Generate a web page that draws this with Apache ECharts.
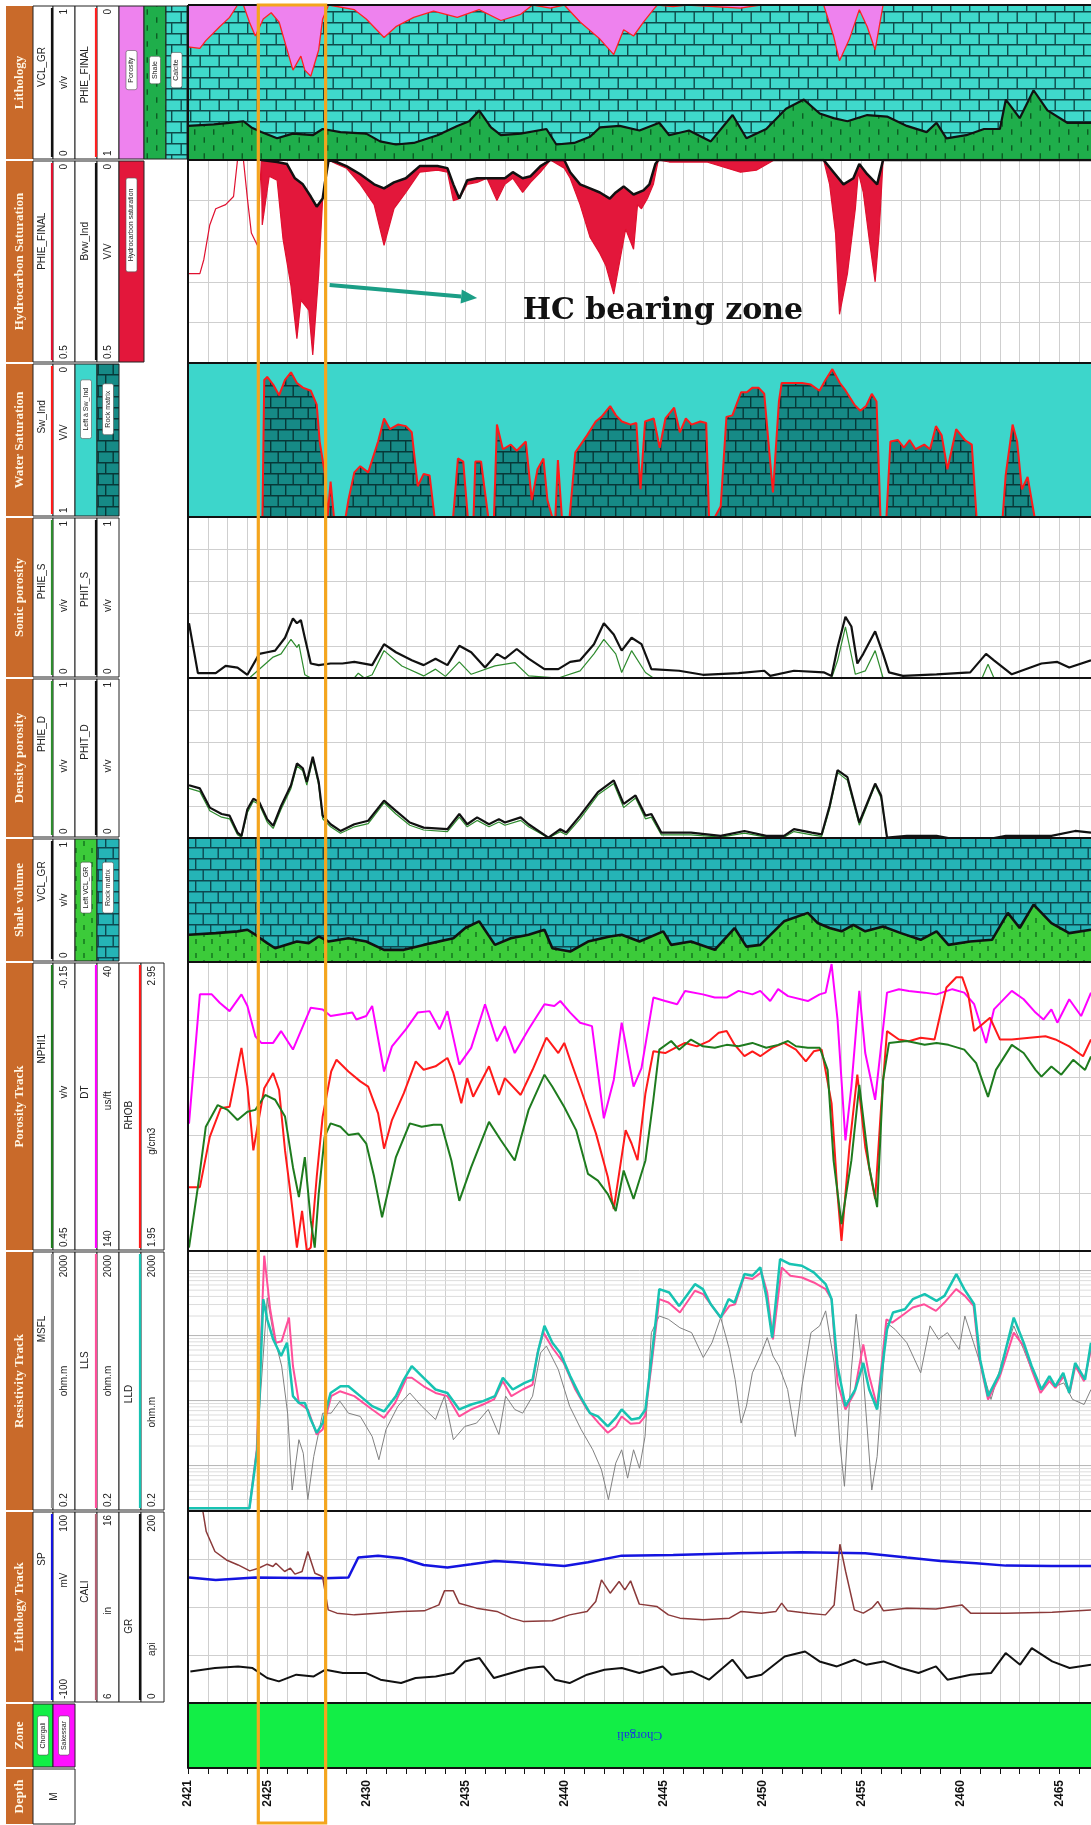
<!DOCTYPE html>
<html><head><meta charset="utf-8">
<script src="https://cdn.jsdelivr.net/npm/echarts@6/dist/echarts.min.js"></script>
<style>html,body{margin:0;padding:0;background:#fff}#c{width:1091px;height:1825px}</style>
</head><body><div id="c"></div>
<script>
// ---------------- DATA (depth m, value) ----------------
const XMIN = 2421, XMAX = 2466.6;
const depthLabels = [2421, 2425, 2430, 2435, 2440, 2445, 2450, 2455, 2460, 2465];
const hcZone = [2424.55, 2427.95];
const zoneName = 'Chorgali';

// Track 1: Lithology
const lithoVCL = [[2421,0.22],[2422.3,0.23],[2423.1,0.24],[2423.8,0.25],[2424.2,0.21],[2424.7,0.18],[2425.5,0.14],[2426.3,0.17],[2427.3,0.16],[2427.8,0.2],[2428.7,0.18],[2430,0.17],[2430.7,0.12],[2431.5,0.1],[2432.4,0.11],[2433.6,0.16],[2434.6,0.22],[2435.2,0.25],[2435.7,0.32],[2436.3,0.21],[2436.8,0.16],[2437.8,0.17],[2439.1,0.2],[2439.6,0.1],[2440.5,0.11],[2441.3,0.15],[2441.8,0.21],[2442.8,0.22],[2443.8,0.19],[2444.8,0.24],[2445.3,0.16],[2446.3,0.19],[2447.4,0.12],[2448.5,0.29],[2449.2,0.14],[2450.2,0.2],[2451.2,0.33],[2452.1,0.39],[2452.9,0.3],[2453.6,0.27],[2454.3,0.25],[2455.3,0.29],[2456.3,0.28],[2457.3,0.22],[2458.3,0.18],[2458.8,0.24],[2459.3,0.14],[2460.3,0.16],[2461.2,0.2],[2462,0.2],[2462.3,0.39],[2463,0.27],[2463.7,0.45],[2464.4,0.32],[2465.4,0.24],[2466.6,0.24]];
const lithoPHIE = [[2421,0.27],[2421.6,0.28],[2421.9,0.23],[2422.6,0.14],[2423.1,0.08],[2423.5,0],[2423.8,0],[2424.1,0.11],[2424.4,0.2],[2424.8,0.09],[2425.2,0.05],[2425.6,0.11],[2426.3,0.42],[2426.7,0.33],[2426.9,0.42],[2427.2,0.46],[2427.6,0.29],[2427.8,0.09],[2428.1,0],[2429.4,0.03],[2430,0.09],[2430.9,0.21],[2431.5,0.14],[2432.4,0.08],[2433.4,0.04],[2434.6,0.08],[2435.7,0.03],[2436.8,0.1],[2437.8,0.06],[2438.4,0],[2439.3,0.02],[2440,0],[2440.8,0.11],[2441.8,0.22],[2442.5,0.32],[2443,0.16],[2443.5,0.2],[2444,0.11],[2444.5,0.03],[2444.7,0],[2445.5,0.01],[2446.2,0],[2448.9,0.02],[2449.9,0],[2453.1,0],[2453.6,0.2],[2453.9,0.36],[2454.4,0.22],[2454.9,0.03],[2455.3,0.14],[2455.7,0.29],[2456.1,0],[2466.6,0]];

// Track 2: Hydrocarbon saturation
const hcPHIE = [[2421,0.28],[2421.6,0.28],[2421.8,0.245],[2422.1,0.16],[2422.4,0.12],[2422.9,0.11],[2423.3,0.09],[2423.5,0],[2423.8,0],[2424,0.095],[2424.2,0.18],[2424.5,0.21],[2424.7,0],[2424.75,0.16],[2425.1,0.04],[2425.5,0.05],[2425.8,0.195],[2426.2,0.31],[2426.5,0.44],[2426.7,0.345],[2427.1,0.37],[2427.3,0.48],[2427.6,0.28],[2427.8,0.095],[2428.1,0],[2428.5,0.01],[2429,0.02],[2429.7,0.06],[2430.4,0.11],[2430.9,0.21],[2431.4,0.12],[2432,0.08],[2432.7,0.03],[2433.6,0.025],[2434.1,0.03],[2434.4,0.1],[2434.7,0.095],[2435.1,0.06],[2435.6,0.055],[2436.1,0.045],[2436.6,0.1],[2437,0.06],[2437.4,0.045],[2437.9,0.08],[2438.3,0.055],[2438.8,0.03],[2439.3,0],[2440,0.02],[2440.3,0.045],[2440.8,0.11],[2441.3,0.19],[2441.8,0.23],[2442.1,0.26],[2442.5,0.33],[2442.8,0.25],[2443.1,0.17],[2443.5,0.22],[2443.7,0.11],[2443.9,0.12],[2444.2,0.095],[2444.5,0.06],[2444.75,0],[2445.3,0.005],[2447.2,0.005],[2448.9,0.03],[2449.7,0.025],[2450.6,0],[2453.1,0],[2453.4,0.06],[2453.7,0.18],[2453.9,0.38],[2454.3,0.28],[2454.7,0.12],[2454.85,0.03],[2455.1,0.08],[2455.4,0.195],[2455.7,0.3],[2455.9,0.18],[2456.1,0],[2466.6,0]];
const hcBVW = [[2424.7,0],[2425.5,0.005],[2426,0.01],[2426.4,0.045],[2426.8,0.06],[2427.2,0.09],[2427.5,0.115],[2427.8,0.095],[2427.9,0.06],[2428.1,0],[2428.5,0.005],[2429,0.015],[2429.7,0.035],[2430.4,0.06],[2430.9,0.07],[2431.4,0.055],[2432,0.045],[2432.7,0.015],[2433.6,0.015],[2434.1,0.02],[2434.4,0.06],[2434.7,0.095],[2435.1,0.05],[2435.6,0.045],[2436.1,0.045],[2436.6,0.045],[2437,0.045],[2437.4,0.03],[2437.9,0.045],[2438.3,0.04],[2438.8,0.015],[2439.3,0],[2440,0],[2440.3,0.03],[2440.8,0.06],[2441.3,0.07],[2441.8,0.08],[2442.3,0.095],[2442.6,0.08],[2443,0.065],[2443.5,0.085],[2444,0.075],[2444.3,0.06],[2444.6,0.01],[2444.75,0],[2453.1,0],[2453.6,0.03],[2454.1,0.06],[2454.6,0.045],[2454.9,0.01],[2455.3,0.035],[2455.8,0.06],[2456.1,0],[2466.6,0]];

// Track 3: Water saturation
const swInd = [[2424.76,1],[2424.85,0.11],[2425,0.09],[2425.3,0.14],[2425.6,0.21],[2425.9,0.11],[2426.2,0.06],[2426.5,0.13],[2426.8,0.16],[2427.2,0.18],[2427.5,0.27],[2427.65,0.51],[2427.9,0.71],[2428.05,1],[2428.2,0.77],[2428.37,1],[2428.96,1],[2429.1,0.89],[2429.4,0.71],[2429.7,0.67],[2430.1,0.71],[2430.6,0.51],[2430.9,0.36],[2431.2,0.43],[2431.6,0.4],[2432,0.41],[2432.3,0.45],[2432.6,0.8],[2432.9,0.72],[2433.2,0.73],[2433.45,1],[2434.39,1],[2434.63,0.62],[2434.9,0.64],[2435.13,1],[2435.42,1],[2435.51,0.64],[2435.8,0.64],[2436.16,1],[2436.45,1],[2436.6,0.4],[2436.9,0.56],[2437.3,0.53],[2437.6,0.57],[2438.06,0.51],[2438.36,0.89],[2438.65,0.69],[2438.95,0.62],[2439.15,0.89],[2439.39,1],[2439.55,1],[2439.68,0.63],[2439.88,1],[2440.27,1],[2440.56,0.58],[2441.15,0.47],[2441.59,0.38],[2441.88,0.35],[2442.32,0.28],[2442.61,0.34],[2442.91,0.38],[2443.35,0.4],[2443.64,0.39],[2443.85,0.82],[2444.08,0.38],[2444.52,0.36],[2444.82,0.55],[2445.11,0.36],[2445.55,0.29],[2445.84,0.45],[2446.14,0.36],[2446.43,0.4],[2446.87,0.38],[2447.17,0.39],[2447.31,1],[2447.61,1],[2447.9,0.93],[2448.19,0.35],[2448.49,0.34],[2448.93,0.19],[2449.22,0.19],[2449.51,0.16],[2449.81,0.16],[2450.1,0.2],[2450.31,0.51],[2450.54,0.84],[2450.84,0.25],[2450.98,0.13],[2451.42,0.13],[2452.01,0.13],[2452.45,0.14],[2452.89,0.18],[2453.19,0.11],[2453.54,0.04],[2453.92,0.13],[2454.21,0.18],[2454.65,0.27],[2454.95,0.31],[2455.24,0.28],[2455.53,0.2],[2455.77,0.25],[2455.97,1],[2456.27,1],[2456.47,0.51],[2456.85,0.5],[2457.15,0.55],[2457.44,0.5],[2457.74,0.56],[2458.18,0.53],[2458.47,0.56],[2458.77,0.41],[2459.06,0.47],[2459.35,0.69],[2459.79,0.43],[2460.23,0.5],[2460.58,0.53],[2460.82,1],[2462.14,1],[2462.29,0.73],[2462.64,0.4],[2462.87,0.51],[2463.11,0.82],[2463.4,0.74],[2463.75,1],[2466.6,1]];

// Track 4: Sonic porosity
const phitS = [[2421.05,0.34],[2421.5,0.03],[2422.4,0.03],[2422.9,0.075],[2423.5,0.065],[2424,0.02],[2424.6,0.15],[2425,0.16],[2425.4,0.17],[2425.9,0.25],[2426.3,0.37],[2426.5,0.34],[2426.7,0.36],[2426.9,0.25],[2427.2,0.09],[2427.6,0.08],[2428.2,0.09],[2428.8,0.09],[2429.4,0.1],[2430.3,0.08],[2430.9,0.21],[2431.5,0.16],[2432.3,0.11],[2432.9,0.08],[2433.5,0.12],[2434.1,0.08],[2434.7,0.2],[2435.3,0.16],[2436,0.065],[2436.6,0.15],[2437,0.12],[2437.6,0.18],[2438.2,0.12],[2439,0.055],[2439.7,0.055],[2440.3,0.1],[2440.8,0.11],[2441.5,0.21],[2442,0.34],[2442.5,0.27],[2442.9,0.17],[2443.4,0.25],[2443.9,0.21],[2444.4,0.055],[2445.8,0.045],[2447,0.02],[2448.8,0.03],[2450.1,0.045],[2450.4,0.013],[2451.6,0.045],[2453.1,0.035],[2453.5,0.013],[2453.8,0.19],[2454.2,0.38],[2454.5,0.32],[2454.8,0.09],[2455.1,0.15],[2455.7,0.29],[2456.1,0.15],[2456.4,0.035],[2457.1,0.013],[2458.8,0.023],[2460.5,0.035],[2461.3,0.15],[2461.7,0.11],[2462.6,0.023],[2464.1,0.09],[2464.9,0.1],[2465.5,0.065],[2466.6,0.11]];
const phieS = [[2421,0],[2424.1,0],[2424.7,0.065],[2425.3,0.13],[2425.7,0.15],[2426.2,0.24],[2426.5,0.19],[2426.6,0.21],[2426.9,0.02],[2427.2,0],[2429.4,0],[2429.6,0.03],[2429.9,0],[2430.3,0.02],[2430.9,0.17],[2431.8,0.075],[2432.9,0.013],[2433.5,0.055],[2434,0.01],[2434.7,0.1],[2435.3,0.023],[2436.5,0.075],[2437.5,0.096],[2438.2,0.013],[2439.7,0],[2440.8,0.044],[2441.5,0.15],[2442,0.24],[2442.6,0.15],[2442.9,0.034],[2443.4,0.17],[2444.1,0.034],[2444.5,0],[2453.5,0],[2453.8,0.107],[2454.2,0.317],[2454.7,0.023],[2455.2,0.044],[2455.7,0.17],[2456.1,0],[2461.1,0],[2461.4,0.086],[2461.7,0],[2466.6,0]];

// Track 5: Density porosity
const phitD = [[2421.05,0.33],[2421.6,0.31],[2422.1,0.19],[2422.7,0.15],[2423.1,0.14],[2423.5,0.034],[2423.7,0.013],[2424,0.18],[2424.3,0.245],[2424.6,0.224],[2425,0.118],[2425.3,0.076],[2425.7,0.2],[2426.2,0.33],[2426.5,0.466],[2426.8,0.435],[2427,0.35],[2427.3,0.508],[2427.6,0.35],[2427.8,0.14],[2428.2,0.086],[2428.7,0.044],[2429.4,0.086],[2430.1,0.108],[2430.9,0.234],[2431.5,0.17],[2432.2,0.097],[2432.9,0.065],[2434.1,0.055],[2434.7,0.15],[2435.1,0.086],[2435.6,0.129],[2436.2,0.086],[2436.7,0.118],[2437,0.097],[2437.8,0.129],[2438.2,0.086],[2439.2,0.002],[2439.8,0.055],[2440.1,0.034],[2440.8,0.14],[2441.7,0.287],[2442.5,0.36],[2443,0.213],[2443.6,0.266],[2444.1,0.14],[2444.4,0.15],[2444.9,0.034],[2446.4,0.034],[2447.9,0.013],[2449.1,0.044],[2450.2,0.013],[2451.1,0.013],[2451.6,0.055],[2452.5,0.034],[2453,0.023],[2453.4,0.2],[2453.8,0.424],[2454.3,0.38],[2454.9,0.097],[2455.7,0.34],[2456,0.266],[2456.3,0.002],[2457.3,0.013],[2458.8,0.013],[2459.4,0],[2461.7,0],[2462.3,0.013],[2464.6,0.013],[2465.8,0.044],[2466.6,0.034]];
const phieD = [[2421.05,0.31],[2421.6,0.29],[2422.1,0.17],[2422.7,0.13],[2423.1,0.12],[2423.5,0.02],[2423.7,0.005],[2424,0.16],[2424.3,0.23],[2424.6,0.21],[2425,0.1],[2425.3,0.06],[2425.7,0.18],[2426.2,0.31],[2426.5,0.45],[2426.8,0.42],[2427,0.33],[2427.3,0.49],[2427.6,0.33],[2427.8,0.12],[2428.2,0.07],[2428.7,0.03],[2429.4,0.07],[2430.1,0.09],[2430.9,0.22],[2431.5,0.15],[2432.2,0.08],[2432.9,0.05],[2434.1,0.04],[2434.7,0.13],[2435.1,0.07],[2435.6,0.11],[2436.2,0.07],[2436.7,0.1],[2437,0.08],[2437.8,0.11],[2438.2,0.07],[2439.2,0],[2439.8,0.04],[2440.1,0.02],[2440.8,0.12],[2441.7,0.27],[2442.5,0.34],[2443,0.19],[2443.6,0.25],[2444.1,0.12],[2444.4,0.13],[2444.9,0.02],[2446.4,0.02],[2447.9,0.005],[2449.1,0.03],[2450.2,0.005],[2451.1,0.005],[2451.6,0.04],[2452.5,0.02],[2453,0.01],[2453.4,0.18],[2453.8,0.41],[2454.3,0.36],[2454.9,0.08],[2455.7,0.33],[2456,0.25],[2456.3,0],[2466.6,0]];

// Track 6: Shale volume
const shaleVCL = [[2421.05,0.22],[2422.4,0.233],[2423.5,0.247],[2424,0.26],[2424.4,0.22],[2425,0.152],[2425.4,0.111],[2426.5,0.165],[2427.1,0.152],[2427.6,0.206],[2428.1,0.165],[2429.1,0.192],[2430,0.165],[2430.9,0.098],[2431.9,0.098],[2432.9,0.138],[2434.4,0.192],[2435,0.274],[2435.7,0.328],[2436.5,0.138],[2437.3,0.192],[2438.2,0.22],[2439,0.26],[2439.4,0.111],[2440.3,0.084],[2441.2,0.165],[2442.3,0.206],[2442.9,0.22],[2443.8,0.165],[2445,0.247],[2445.4,0.138],[2446.4,0.165],[2447.6,0.098],[2448.6,0.274],[2449.2,0.124],[2449.9,0.138],[2451.1,0.328],[2452.3,0.396],[2452.8,0.314],[2453.4,0.274],[2454,0.247],[2454.6,0.3],[2455.2,0.247],[2456.1,0.287],[2457,0.233],[2458,0.179],[2458.8,0.247],[2459.4,0.138],[2460.5,0.165],[2461.6,0.179],[2462.4,0.396],[2463,0.274],[2463.7,0.463],[2464.6,0.314],[2465.5,0.233],[2466.6,0.26]];

// Track 7: Porosity track
const nphi = [[2421.05,0.443],[2421.5,0.317],[2421.9,0.192],[2422.5,0.147],[2423,0.157],[2423.5,0.178],[2424,0.161],[2424.4,0.157],[2424.9,0.126],[2425.4,0.136],[2425.9,0.171],[2426.3,0.276],[2426.6,0.338],[2426.9,0.255],[2427.2,0.387],[2427.4,0.443],[2427.6,0.332],[2427.9,0.213],[2428.2,0.185],[2428.7,0.192],[2429.1,0.209],[2429.6,0.206],[2430,0.227],[2430.4,0.296],[2430.8,0.38],[2431.5,0.255],[2432.2,0.185],[2432.8,0.192],[2433.4,0.188],[2433.8,0.188],[2434.3,0.262],[2434.7,0.346],[2435.3,0.276],[2436.2,0.182],[2436.8,0.22],[2437.5,0.262],[2438.2,0.157],[2439,0.084],[2439.4,0.109],[2440,0.151],[2440.6,0.199],[2441.2,0.29],[2441.7,0.304],[2442.2,0.332],[2442.6,0.367],[2443,0.283],[2443.5,0.342],[2444.1,0.262],[2444.5,0.136],[2444.8,0.032],[2445.4,0.014],[2445.8,0.032],[2446.4,0.011],[2447,0.025],[2447.6,0.028],[2448.2,0.022],[2448.8,0.025],[2449.5,0.018],[2450.2,0.028],[2450.8,0.022],[2451.3,0.014],[2451.7,0.025],[2452.3,0.028],[2452.9,0.028],[2453.3,0.074],[2453.6,0.262],[2454,0.394],[2454.5,0.262],[2454.9,0.105],[2455.4,0.276],[2455.8,0.359],[2456.1,0.095],[2456.4,0.018],[2457.3,0.014],[2458.2,0.022],[2458.8,0.018],[2459.4,0.022],[2460.2,0.032],[2460.8,0.06],[2461.4,0.13],[2461.8,0.074],[2462.6,0.022],[2463.2,0.039],[2463.8,0.074],[2464.1,0.088],[2464.6,0.067],[2465.1,0.084],[2465.7,0.053],[2466.3,0.074],[2466.6,0.046]];
const dt = [[2421.05,95.9],[2421.6,51.2],[2422.2,51.2],[2422.6,54.1],[2423.1,57],[2423.7,51.2],[2424,55.2],[2424.4,65.7],[2424.7,68],[2425.3,68],[2425.7,63.9],[2426.3,70.3],[2427.2,55.8],[2427.8,56.4],[2428.2,58.7],[2429.3,57.5],[2429.5,59.9],[2430,58.7],[2430.3,55.2],[2430.9,77.9],[2431.3,69.2],[2432,63.3],[2432.6,57.5],[2433.2,57],[2433.7,63.3],[2434.1,57],[2434.7,75.5],[2435.3,69.7],[2436,54.6],[2436.6,67.4],[2437,62.2],[2437.5,71.5],[2438.2,63.3],[2439,54.6],[2439.5,55.2],[2439.8,53.5],[2440.3,57.5],[2440.8,61],[2441.4,62.2],[2442,94.1],[2442.5,80.8],[2442.9,61],[2443.5,83.1],[2443.9,76.7],[2444.5,52.3],[2445.1,53.5],[2445.7,54.6],[2446.1,50],[2447,51.2],[2447.6,52.3],[2448.2,52.3],[2448.8,50],[2449.5,51.2],[2449.9,50],[2450.4,53.5],[2450.8,49.4],[2451.3,51.8],[2452.3,53.5],[2452.9,51.2],[2453.2,50.6],[2453.5,40.7],[2453.8,59.9],[2454.2,101.7],[2454.5,83.1],[2454.9,50],[2455.2,71.5],[2455.7,87.7],[2456.3,50.6],[2456.9,49.4],[2457.4,50],[2458.2,50.6],[2458.8,51.2],[2459.6,49.4],[2460.2,50.6],[2460.7,54.6],[2461.3,68],[2461.7,56.4],[2462.6,50],[2463.2,52.9],[2463.8,57.5],[2464.2,59.9],[2464.6,56.4],[2464.9,61],[2465.5,52.9],[2466.1,58.7],[2466.6,50.6]];
const rhob = [[2421.05,2.171],[2421.6,2.171],[2422.1,2.345],[2422.65,2.444],[2423.1,2.449],[2423.7,2.653],[2424,2.519],[2424.3,2.298],[2424.85,2.513],[2425.3,2.566],[2425.6,2.507],[2425.9,2.298],[2426.2,2.136],[2426.5,1.962],[2426.76,2.089],[2427,1.95],[2427.2,1.962],[2427.5,2.206],[2427.8,2.415],[2428.23,2.571],[2428.5,2.612],[2429.1,2.571],[2429.7,2.537],[2430.1,2.519],[2430.6,2.426],[2430.9,2.304],[2431.3,2.403],[2431.9,2.496],[2432.5,2.606],[2432.9,2.577],[2433.5,2.589],[2434.1,2.618],[2434.4,2.566],[2434.8,2.461],[2435.1,2.548],[2435.4,2.484],[2436.2,2.589],[2436.7,2.49],[2437,2.548],[2437.8,2.49],[2438.4,2.577],[2439.1,2.688],[2439.7,2.635],[2440,2.67],[2440.85,2.507],[2441.6,2.357],[2442.2,2.206],[2442.5,2.095],[2443.1,2.368],[2443.4,2.322],[2443.7,2.264],[2444.1,2.496],[2444.5,2.641],[2445.1,2.635],[2445.6,2.653],[2446.1,2.67],[2446.7,2.658],[2447.3,2.676],[2447.8,2.705],[2448.2,2.711],[2448.6,2.664],[2449.1,2.624],[2449.5,2.641],[2449.9,2.624],[2450.5,2.653],[2451.1,2.67],[2451.7,2.647],[2452.2,2.606],[2452.6,2.641],[2453,2.647],[2453.5,2.461],[2453.8,2.147],[2454,1.985],[2454.4,2.31],[2454.8,2.56],[2455.2,2.31],[2455.7,2.13],[2456,2.449],[2456.3,2.711],[2456.9,2.682],[2457.4,2.676],[2458,2.688],[2458.7,2.682],[2459.3,2.862],[2459.8,2.897],[2460.1,2.897],[2460.4,2.838],[2460.7,2.711],[2461.1,2.734],[2461.5,2.757],[2462,2.682],[2462.6,2.682],[2463.5,2.688],[2464.3,2.693],[2464.8,2.682],[2465.5,2.658],[2466.2,2.624],[2466.6,2.682]];

// Track 8: Resistivity (ohm.m)
const lld = [[2421.05,0.22],[2424.1,0.22],[2424.5,1.75],[2424.8,363],[2425,178],[2425.3,87.5],[2425.7,48.4],[2426,77.6],[2426.3,11.7],[2426.6,9.2],[2426.9,9.2],[2427.2,5.1],[2427.5,3.2],[2427.8,4.5],[2428.2,13.1],[2428.7,16.6],[2429.1,16.6],[2429.7,11.7],[2430.3,8.2],[2430.9,6.8],[2431.5,11.7],[2431.9,21],[2432.3,34],[2432.9,22.4],[2433.5,14.8],[2434.1,13.1],[2434.7,7.3],[2435.3,8.7],[2435.9,9.8],[2436.5,11.7],[2436.9,22.4],[2437.4,14.8],[2438,18.7],[2438.4,21],[2438.7,61],[2439,141],[2439.4,77.6],[2439.8,54],[2440.3,23.8],[2440.8,11.7],[2441.3,6.4],[2441.7,5.7],[2442.2,4],[2442.6,5.4],[2442.9,7.3],[2443.4,5.1],[2443.8,5.4],[2444.1,7.3],[2444.4,43],[2444.8,518],[2445.3,460],[2445.8,286],[2446.6,618],[2447,518],[2447.4,303],[2447.9,189],[2448.3,363],[2448.6,322],[2449.1,883],[2449.5,832],[2449.9,1120],[2450.2,408],[2450.5,93],[2450.9,1503],[2451.4,1259],[2452,1186],[2452.6,938],[2453.2,618],[2453.5,363],[2453.8,34],[2454.2,8.2],[2454.7,14.8],[2455.1,38],[2455.4,14.8],[2455.8,7.3],[2456.3,125],[2456.6,226],[2457.2,254],[2457.6,363],[2458.2,434],[2458.8,342],[2459.2,408],[2459.8,883],[2460.2,518],[2460.7,303],[2461,43],[2461.4,11.7],[2462,26.7],[2462.7,189],[2463.2,77.6],[2463.6,34],[2464.1,14.8],[2464.5,23.8],[2464.8,16.6],[2465.2,26.7],[2465.5,13.1],[2465.8,38],[2466.3,21],[2466.6,77.6]];
const lls = [[2421.05,0.22],[2424.1,0.22],[2424.47,1.75],[2424.85,1694],[2425.15,254],[2425.44,77.6],[2425.73,82],[2426.1,189],[2426.3,34],[2426.6,9.2],[2427.05,7.3],[2427.5,3],[2427.8,3.6],[2428.23,11.7],[2428.67,13.9],[2429.4,11.7],[2430.3,7.3],[2430.9,5.4],[2431.46,9.2],[2432.04,22.4],[2432.3,22.4],[2432.9,16.6],[2433.5,13.1],[2434.1,11.7],[2434.7,5.7],[2435.3,7.3],[2435.9,8.7],[2436.45,10.4],[2436.9,19.9],[2437.33,11.7],[2437.9,14.8],[2438.4,17.5],[2438.65,54],[2438.95,111],[2439.4,65],[2439.97,38],[2440.56,14.8],[2441.15,7.3],[2441.74,4.5],[2442.2,3.2],[2442.6,4],[2442.9,5.7],[2443.35,4.4],[2443.8,4.5],[2444.08,5.7],[2444.4,34],[2444.8,363],[2445.26,322],[2445.84,226],[2446.6,490],[2447.02,434],[2447.46,286],[2447.9,189],[2448.34,286],[2448.63,303],[2449.07,783],[2449.5,740],[2449.96,938],[2450.25,460],[2450.54,87.5],[2450.98,1120],[2451.42,832],[2452,783],[2452.6,656],[2453.2,518],[2453.5,363],[2453.8,18.7],[2454.2,7.3],[2454.65,13.1],[2455.1,73],[2455.4,23.8],[2455.8,8.2],[2456.27,178],[2456.56,158],[2457.15,213],[2457.6,270],[2458.18,303],[2458.77,240],[2459.2,322],[2459.79,518],[2460.23,408],[2460.67,286],[2460.96,43],[2461.4,10.4],[2462,23.8],[2462.7,111],[2463.2,69],[2463.6,30],[2464.05,13.1],[2464.5,19.9],[2464.8,15.7],[2465.23,23.8],[2465.52,13.1],[2465.81,34],[2466.25,19.9],[2466.6,61]];
const msfl = [[2421.05,0.22],[2424.1,0.22],[2424.47,1.75],[2425,380],[2425.3,111],[2425.73,34],[2426.03,6.4],[2426.26,0.42],[2426.6,2.5],[2426.82,1.55],[2427.05,0.3],[2427.35,1.38],[2427.8,6.4],[2428.23,6.4],[2428.67,9.8],[2429.1,6.4],[2429.7,5.7],[2430.3,2.8],[2430.64,1.23],[2431,3.6],[2431.6,8.2],[2432.2,13.1],[2432.8,8.2],[2433.5,5.1],[2433.95,11.7],[2434.4,2.5],[2434.98,4],[2435.57,4.5],[2436.16,7.3],[2436.7,3],[2437.04,11.7],[2437.5,7.3],[2437.9,6.4],[2438.4,11.7],[2438.8,54],[2439.1,69],[2439.7,30],[2440.27,8.2],[2440.85,3.6],[2441.44,1.75],[2441.88,0.86],[2442.23,0.3],[2442.6,1.09],[2442.9,1.75],[2443.2,0.64],[2443.5,1.75],[2443.8,0.91],[2444.08,2.8],[2444.4,111],[2444.8,200],[2445.26,178],[2445.84,132],[2446.43,111],[2447.02,46],[2447.46,77.6],[2447.9,189],[2448.34,61],[2448.63,21],[2448.93,4.5],[2449.2,8.2],[2449.5,26.7],[2449.96,54],[2450.25,93],[2450.54,48.4],[2450.84,34],[2451.28,14.8],[2451.67,2.8],[2452,16.6],[2452.46,111],[2452.9,141],[2453.2,240],[2453.63,38],[2453.92,2.2],[2454.15,0.48],[2454.5,30],[2454.74,213],[2455.1,23.8],[2455.53,0.42],[2455.8,1.38],[2456.27,158],[2456.7,125],[2457.3,77.6],[2458,26.7],[2458.47,141],[2458.9,87.5],[2459.35,111],[2459.94,61],[2460.23,200],[2460.67,77.6],[2461.1,30],[2461.55,10.4],[2462.14,43],[2462.7,141],[2463.2,61],[2463.6,30],[2464.05,14.8],[2464.5,21],[2464.8,16.6],[2465.23,18.7],[2465.67,10.4],[2466.25,8.7],[2466.6,14.8]];

// Track 9: Lithology track
const sp = [[2421.05,30.7],[2422.4,28.2],[2424.4,30.7],[2427.9,30],[2429.1,30.7],[2429.6,51.5],[2430.6,53.5],[2431.8,50.8],[2432.9,43.8],[2434.1,41.1],[2435.3,44.5],[2436.5,48],[2437.6,46.6],[2438.8,44.5],[2440,42.8],[2441.2,46.6],[2442.9,53.5],[2445.5,54.2],[2448.8,56],[2452,57],[2455.2,56],[2457.3,51.5],[2459,48],[2460.8,45.6],[2462.3,43.1],[2464.6,42.8],[2466.6,42.8]];
const cali = [[2421.75,16],[2421.92,14.93],[2422.36,13.89],[2422.94,13.45],[2423.53,13.19],[2424.12,12.88],[2424.56,13.02],[2425,13.23],[2425.29,13.11],[2425.44,13.28],[2425.88,12.85],[2426.17,13.02],[2426.4,12.71],[2426.76,12.85],[2427.05,13.89],[2427.41,12.76],[2427.79,12.59],[2428.08,10.85],[2428.52,10.68],[2429.4,10.59],[2430.58,10.68],[2431.76,10.77],[2432.93,10.8],[2433.67,11.11],[2433.95,11.84],[2434.4,11.84],[2434.69,11.2],[2435.57,10.94],[2436.6,10.77],[2437.33,10.42],[2437.92,10.25],[2439.39,10.28],[2440.27,10.59],[2441.15,10.77],[2441.59,11.29],[2441.88,12.41],[2442.32,11.72],[2442.77,12.33],[2443.06,11.89],[2443.35,12.36],[2443.79,11.15],[2444.67,11.03],[2445.26,10.59],[2445.84,10.42],[2447.02,10.33],[2448.34,10.42],[2448.93,10.77],[2449.96,10.68],[2450.69,10.77],[2450.98,11.2],[2451.28,10.8],[2452.3,10.68],[2453.19,10.59],[2453.63,11.11],[2453.92,14.27],[2454.21,12.85],[2454.65,10.85],[2455.1,10.68],[2455.53,10.94],[2455.83,11.29],[2456.12,10.8],[2457.3,10.94],[2458.77,10.9],[2460.08,11.11],[2460.52,10.68],[2462.29,10.68],[2464.64,10.73],[2466.6,10.85]];
const gr = [[2421.12,32.9],[2422.36,36.4],[2423.53,38.1],[2424.26,36.4],[2425,26],[2425.59,22.5],[2426.47,29.5],[2427.35,27.7],[2427.94,34.7],[2428.82,31.2],[2430,31.2],[2430.72,24.3],[2431.76,20.8],[2432.49,26],[2433.51,27.7],[2434.4,31.2],[2434.98,43.3],[2435.72,46.8],[2436.45,26],[2437.33,31.2],[2438.21,36.4],[2438.95,38.1],[2439.53,24.3],[2440.27,20.8],[2441.15,29.5],[2442.03,34.7],[2442.91,36.4],[2443.79,31.2],[2444.97,38.1],[2445.41,29.5],[2446.43,32.9],[2447.31,24.3],[2448.49,45.1],[2449.22,26],[2449.96,29.5],[2451.13,48.5],[2452.16,53.7],[2452.89,43.3],[2453.77,38.1],[2454.65,45.1],[2455.24,39.9],[2456.12,43.3],[2457,36.4],[2457.89,31.2],[2458.77,38.1],[2459.35,24.3],[2460.52,29.5],[2461.55,31.2],[2462.29,52],[2463.02,39.9],[2463.61,57.2],[2464.64,43.3],[2465.52,36.4],[2466.6,39.9]];

// ---------------- STYLE / LAYOUT ----------------
const W = 1091, PL = 188;
const B = [5, 160, 363, 517, 678, 838, 962, 1251, 1511, 1703, 1768];
const ORANGE = '#C96A2A';

function brick(bg, line, w, h) {
  const c = document.createElement('canvas'); c.width = w * 2; c.height = h * 2;
  const g = c.getContext('2d'); g.fillStyle = bg; g.fillRect(0, 0, w * 2, h * 2);
  g.strokeStyle = line; g.lineWidth = 1.4; g.beginPath();
  g.moveTo(0, 0.7); g.lineTo(2 * w, 0.7); g.moveTo(0, h + 0.7); g.lineTo(2 * w, h + 0.7);
  [0, w].forEach(x => { g.moveTo(x + 0.7, 0); g.lineTo(x + 0.7, h); });
  [w / 2, w * 1.5].forEach(x => { g.moveTo(x + 0.7, h); g.lineTo(x + 0.7, 2 * h); });
  g.stroke(); return { image: c, repeat: 'repeat' };
}
function dashes(bg, mark, w, h) {
  const c = document.createElement('canvas'); c.width = w; c.height = h;
  const g = c.getContext('2d'); g.fillStyle = bg; g.fillRect(0, 0, w, h);
  g.strokeStyle = mark; g.lineWidth = 1.3; g.beginPath();
  g.moveTo(w * 0.25, h * 0.08); g.lineTo(w * 0.25, h * 0.42);
  g.moveTo(w * 0.75, h * 0.58); g.lineTo(w * 0.75, h * 0.92);
  g.stroke(); return { image: c, repeat: 'repeat' };
}
const PAT = {
  calc: brick('#3FD9CB', '#0E4B4B', 19, 11),
  rockW: brick('#168A86', '#073838', 15, 11),
  rockS: brick('#25B4B6', '#0D4850', 15, 11),
  shale1: dashes('#1FAE4B', '#0A5520', 19, 16),
  shale2: dashes('#3CCB3A', '#0E6A1A', 16, 14)
};

const grids = B.slice(0, -1).map((t, i) => ({ left: PL, width: W - PL, top: t, height: B[i + 1] - t }));
const GL = { show: true, lineStyle: { color: '#cfcfcf', width: 1 } };
const vgrid = [false, true, false, true, true, false, true, true, true, false];
const X = vgrid.map((v, i) => ({ gridIndex: i, type: 'value', min: XMIN, max: XMAX, interval: 1,
  axisLine: { show: false }, axisTick: { show: false }, axisLabel: { show: false }, splitLine: v ? GL : { show: false } }));
X[9] = { gridIndex: 9, type: 'value', min: XMIN, max: XMAX, interval: 1, position: 'bottom',
  axisLine: { show: true, onZero: false, lineStyle: { color: '#111', width: 2 } },
  axisTick: { show: true, length: 6, lineStyle: { color: '#111', width: 1 } },
  axisLabel: { show: true, customValues: depthLabels, formatter: v => String(v), rotate: 90, fontSize: 12, fontWeight: 'bold', color: '#111', margin: 12, fontFamily: 'Liberation Sans' },
  splitLine: { show: false } };

const Y = [];
function addY(gi, o) { Y.push(Object.assign({ gridIndex: gi, type: 'value', axisLine: { show: false }, axisTick: { show: false }, axisLabel: { show: false }, splitLine: { show: false } }, o)); return Y.length - 1; }
const yL0 = addY(0, { min: 0, max: 1 }), yL1 = addY(0, { min: 0, max: 1, inverse: true });
const yH = addY(1, { min: 0, max: 0.5, inverse: true, interval: 0.1, splitLine: GL });
const yW = addY(2, { min: 0, max: 1, inverse: true });
const yS = addY(3, { min: 0, max: 1, interval: 0.2, splitLine: GL });
const yD = addY(4, { min: 0, max: 1, interval: 0.2, splitLine: GL });
const yV = addY(5, { min: 0, max: 1 });
const yN = addY(6, { min: -0.15, max: 0.45, inverse: true });
const yDT = addY(6, { min: 40, max: 140, inverse: true, interval: 20, splitLine: GL });
const yRH = addY(6, { min: 1.95, max: 2.95 });
const yR = addY(7, { type: 'log', logBase: 10, min: 0.2, max: 2000 });
const ySP = addY(8, { min: -100, max: 100, interval: 50, splitLine: GL });
const yCA = addY(8, { min: 6, max: 16 });
const yGR = addY(8, { min: 0, max: 200 });
const yZ = addY(9, { min: 0, max: 1 });

function fillS(gi, yi, upper, lower, fill, z) {
  return { type: 'custom', xAxisIndex: gi, yAxisIndex: yi, silent: true, z: z || 1, animation: false,
    data: [upper[0]],
    renderItem: (p, api) => {
      const pts = upper.map(d => api.coord(d));
      if (typeof lower === 'number') { pts.push(api.coord([upper[upper.length - 1][0], lower])); pts.push(api.coord([upper[0][0], lower])); }
      else for (let i = lower.length - 1; i >= 0; i--) pts.push(api.coord(lower[i]));
      return { type: 'polygon', shape: { points: pts }, style: { fill: fill, stroke: null } };
    } };
}
function lineS(gi, yi, data, color, width, z) {
  return { type: 'line', xAxisIndex: gi, yAxisIndex: yi, data: data, showSymbol: false, symbol: 'none', silent: true,
    animation: false, z: z || 3, lineStyle: { color: color, width: width } };
}
const full = (lo, hi) => [[XMIN, hi], [XMAX, hi]];

const bvwRange = [hcBVW[0][0], hcBVW[hcBVW.length - 1][0]];
const hcLower = hcPHIE.filter(d => d[0] >= bvwRange[0] && d[0] <= bvwRange[1]);

const resGridVals = [];
[0.1, 1, 10, 100, 1000].forEach(dec => { for (let k = 1; k <= 9; k++) { const v = +(k * dec).toPrecision(3); if (v > 0.2 && v < 2000) resGridVals.push(v); } });

const series = [
  fillS(0, yL0, full(0, 1), 0, PAT.calc, 1),
  fillS(0, yL1, lithoPHIE, 0, '#EE82EE', 2),
  fillS(0, yL0, lithoVCL, 0, PAT.shale1, 2),
  lineS(0, yL1, lithoPHIE, '#FF2020', 1.3),
  lineS(0, yL0, lithoVCL, '#111', 2.2),
  fillS(1, yH, hcBVW, hcLower, '#E3173B', 2),
  lineS(1, yH, hcPHIE, '#E0102F', 1.2),
  lineS(1, yH, hcBVW, '#111', 2.5),
  fillS(2, yW, full(0, 0), 1, '#3DD6CB', 1),
  fillS(2, yW, swInd, 1, PAT.rockW, 2),
  lineS(2, yW, swInd, '#FF1A1A', 2),
  lineS(3, yS, phieS, '#2E8B2E', 1.2),
  lineS(3, yS, phitS, '#111', 2.2),
  lineS(4, yD, phieD, '#2E8B2E', 1.2),
  lineS(4, yD, phitD, '#111', 2.2),
  fillS(5, yV, full(0, 1), 0, PAT.rockS, 1),
  fillS(5, yV, shaleVCL, 0, PAT.shale2, 2),
  lineS(5, yV, shaleVCL, '#111', 2.6),
  lineS(6, yDT, dt, '#FF00FF', 2),
  lineS(6, yRH, rhob, '#FF1A1A', 2),
  lineS(6, yN, nphi, '#1E7B1E', 2),
  { type: 'custom', xAxisIndex: 7, yAxisIndex: yR, silent: true, z: 1, animation: false, data: [[XMIN, 1]],
    renderItem: (p, api) => ({ type: 'group', children: resGridVals.map(v => {
      const a = api.coord([XMIN, v]), b = api.coord([XMAX, v]);
      const major = [1, 10, 100, 1000].indexOf(v) >= 0;
      return { type: 'line', shape: { x1: a[0], y1: a[1], x2: b[0], y2: b[1] }, style: { stroke: major ? '#b5b5b5' : '#dcdcdc', lineWidth: 1 } };
    }) }) },
  lineS(7, yR, msfl, '#808080', 1),
  lineS(7, yR, lls, '#FF4F9A', 2),
  lineS(7, yR, lld, '#17C3B2', 2.5),
  lineS(8, ySP, sp, '#1414E0', 2.5),
  lineS(8, yCA, cali, '#8B3A3A', 1.5),
  lineS(8, yGR, gr, '#111', 2),
  { type: 'custom', xAxisIndex: 9, yAxisIndex: yZ, silent: true, z: 1, animation: false, data: [[XMIN, 0]],
    renderItem: (p, api) => {
      const a = api.coord([XMIN, 1]), b = api.coord([XMAX, 0]);
      const m = api.coord([(XMIN + XMAX) / 2, 0.5]);
      return { type: 'group', children: [
        { type: 'rect', shape: { x: a[0], y: a[1], width: b[0] - a[0], height: b[1] - a[1] }, style: { fill: '#12EE46' } },
        { type: 'text', x: m[0], y: m[1], rotation: Math.PI, style: { text: zoneName, fill: '#1A35E0', font: '13px "Liberation Serif"', align: 'center', verticalAlign: 'middle' } }
      ] };
    } }
];

const chart = echarts.init(document.getElementById('c'), null, { renderer: 'canvas' });
chart.setOption({ animation: false, backgroundColor: '#fff', grid: grids, xAxis: X, yAxis: Y, series: series });

// ---------------- HEADER & ANNOTATIONS ----------------
const G = [];
const R90 = Math.PI / 2;
function rect(x, y, w, h, fill, stroke, lw, z) { G.push({ type: 'rect', shape: { x, y, width: w, height: h }, style: { fill: fill, stroke: stroke || null, lineWidth: lw || 1 }, z: z || 10, silent: true }); }
function vtext(x, y, text, font, fill, align) { G.push({ type: 'text', x, y, rotation: R90, z: 12, silent: true, style: { text, font, fill: fill || '#222', align: align || 'center', verticalAlign: 'middle' } }); }
function vline(x, y0, y1, color, lw) { G.push({ type: 'line', shape: { x1: x, y1: y0, x2: x, y2: y1 }, style: { stroke: color, lineWidth: lw }, z: 11, silent: true }); }
function hline(y, x0, x1, color, lw, z) { G.push({ type: 'line', shape: { x1: x0, y1: y, x2: x1, y2: y }, style: { stroke: color, lineWidth: lw }, z: z || 11, silent: true }); }

const F = '10px "Liberation Sans"';
const sections = [
  { t: 'Lithology', y0: 5, y1: 160, cells: [
    { k: 'name', x0: 33, x1: 53, text: 'VCL_GR', line: '#111', f: 0.4 },
    { k: 'scale', x0: 53, x1: 75, lo: '0', unit: 'v/v', hi: '1', f: 0.5 },
    { k: 'name', x0: 75, x1: 97, text: 'PHIE_FINAL', line: '#FF2020', f: 0.45 },
    { k: 'scale', x0: 97, x1: 119, lo: '1', unit: '', hi: '0' },
    { k: 'leg', x0: 119, x1: 144, fill: '#EE82EE', text: 'Porosity', f: 0.42 },
    { k: 'leg', x0: 144, x1: 166, fill: PAT.shale1, text: 'Shale', f: 0.42 },
    { k: 'leg', x0: 166, x1: 187, fill: PAT.calc, text: 'Calcite', f: 0.42 }] },
  { t: 'Hydrocarbon Saturation', y0: 160, y1: 363, cells: [
    { k: 'name', x0: 33, x1: 53, text: 'PHIE_FINAL', line: '#E0102F', f: 0.4 },
    { k: 'scale', x0: 53, x1: 75, lo: '0.5', unit: '', hi: '0' },
    { k: 'name', x0: 75, x1: 97, text: 'Bvw_Ind', line: '#111', f: 0.4 },
    { k: 'scale', x0: 97, x1: 119, lo: '0.5', unit: 'V/V', hi: '0', f: 0.45 },
    { k: 'leg', x0: 119, x1: 144, fill: '#E3173B', text: 'Hydrocarbon saturation', f: 0.32 }] },
  { t: 'Water Saturation', y0: 363, y1: 517, cells: [
    { k: 'name', x0: 33, x1: 53, text: 'Sw_Ind', line: '#FF1A1A', f: 0.35 },
    { k: 'scale', x0: 53, x1: 75, lo: '1', unit: 'V/V', hi: '0', f: 0.45 },
    { k: 'leg', x0: 75, x1: 97, fill: '#3DD6CB', text: 'Left à Sw_Ind', f: 0.3 },
    { k: 'leg', x0: 97, x1: 119, fill: PAT.rockW, text: 'Rock matrix', f: 0.3 }] },
  { t: 'Sonic porosity', y0: 517, y1: 678, cells: [
    { k: 'name', x0: 33, x1: 53, text: 'PHIE_S', line: '#2E8B2E', f: 0.4 },
    { k: 'scale', x0: 53, x1: 75, lo: '0', unit: 'v/v', hi: '1', f: 0.55 },
    { k: 'name', x0: 75, x1: 97, text: 'PHIT_S', line: '#111', f: 0.45 },
    { k: 'scale', x0: 97, x1: 119, lo: '0', unit: 'v/v', hi: '1', f: 0.55 }] },
  { t: 'Density porosity', y0: 678, y1: 838, cells: [
    { k: 'name', x0: 33, x1: 53, text: 'PHIE_D', line: '#2E8B2E', f: 0.35 },
    { k: 'scale', x0: 53, x1: 75, lo: '0', unit: 'v/v', hi: '1', f: 0.55 },
    { k: 'name', x0: 75, x1: 97, text: 'PHIT_D', line: '#111', f: 0.4 },
    { k: 'scale', x0: 97, x1: 119, lo: '0', unit: 'v/v', hi: '1', f: 0.55 }] },
  { t: 'Shale volume', y0: 838, y1: 962, cells: [
    { k: 'name', x0: 33, x1: 53, text: 'VCL_GR', line: '#111', f: 0.35 },
    { k: 'scale', x0: 53, x1: 75, lo: '0', unit: 'v/v', hi: '1', f: 0.5 },
    { k: 'leg', x0: 75, x1: 97, fill: PAT.shale2, text: 'Left VCL_GR', f: 0.4 },
    { k: 'leg', x0: 97, x1: 119, fill: PAT.rockS, text: 'Rock matrix', f: 0.4 }] },
  { t: 'Porosity Track', y0: 962, y1: 1251, cells: [
    { k: 'name', x0: 33, x1: 53, text: 'NPHI1', line: '#1E7B1E', f: 0.3 },
    { k: 'scale', x0: 53, x1: 75, lo: '0.45', unit: 'v/v', hi: '-0.15', f: 0.45 },
    { k: 'name', x0: 75, x1: 97, text: 'DT', line: '#FF00FF', f: 0.45 },
    { k: 'scale', x0: 97, x1: 119, lo: '140', unit: 'us/ft', hi: '40', f: 0.48 },
    { k: 'name', x0: 119, x1: 141, text: 'RHOB', line: '#FF1A1A', f: 0.53 },
    { k: 'scale', x0: 141, x1: 164, lo: '1.95', unit: 'g/cm3', hi: '2.95', f: 0.62 }] },
  { t: 'Resistivity Track', y0: 1251, y1: 1511, cells: [
    { k: 'name', x0: 33, x1: 53, text: 'MSFL', line: '#909090', f: 0.3 },
    { k: 'scale', x0: 53, x1: 75, lo: '0.2', unit: 'ohm.m', hi: '2000', f: 0.5 },
    { k: 'name', x0: 75, x1: 97, text: 'LLS', line: '#FF4F9A', f: 0.42 },
    { k: 'scale', x0: 97, x1: 119, lo: '0.2', unit: 'ohm.m', hi: '2000', f: 0.5 },
    { k: 'name', x0: 119, x1: 141, text: 'LLD', line: '#17C3B2', f: 0.55 },
    { k: 'scale', x0: 141, x1: 164, lo: '0.2', unit: 'ohm.m', hi: '2000', f: 0.62 }] },
  { t: 'Lithology Track', y0: 1511, y1: 1703, cells: [
    { k: 'name', x0: 33, x1: 53, text: 'SP', line: '#1414E0', f: 0.25 },
    { k: 'scale', x0: 53, x1: 75, lo: '-100', unit: 'mV', hi: '100', f: 0.36 },
    { k: 'name', x0: 75, x1: 97, text: 'CALI', line: '#B06070', f: 0.42 },
    { k: 'scale', x0: 97, x1: 119, lo: '6', unit: 'in', hi: '16', f: 0.52 },
    { k: 'name', x0: 119, x1: 141, text: 'GR', line: '#111', f: 0.6 },
    { k: 'scale', x0: 141, x1: 164, lo: '0', unit: 'api', hi: '200', f: 0.72 }] },
  { t: 'Zone', y0: 1703, y1: 1768, cells: [
    { k: 'leg', x0: 33, x1: 53, fill: '#12EE46', text: 'Chorgali', f: 0.5 },
    { k: 'leg', x0: 53, x1: 75, fill: '#FF10FF', text: 'Sakessar', f: 0.5 }] },
  { t: 'Depth', y0: 1768, y1: 1825, cells: [
    { k: 'name', x0: 33, x1: 75, text: 'M', f: 0.5 }] }
];

sections.forEach(s => {
  const h = s.y1 - s.y0;
  rect(6, s.y0 + 1, 27, h - 2, ORANGE, null, 0, 10);
  vtext(19.5, s.y0 + h / 2, s.t, 'bold 13px "Liberation Serif"', '#FFF6E4');
  s.cells.forEach(c => {
    const cx = (c.x0 + c.x1) / 2, w = c.x1 - c.x0;
    const yc = s.y0 + h * (c.f != null ? c.f : 0.5);
    if (c.k === 'name') {
      rect(c.x0, s.y0 + 1, w, h - 2, '#fff', '#222', 1, 10);
      vtext(cx - (c.line ? 1 : 0), yc, c.text, F);
      if (c.line) vline(c.x1 - 1, s.y0 + 3, s.y1 - 3, c.line, 2.2);
    } else if (c.k === 'scale') {
      rect(c.x0, s.y0 + 1, w, h - 2, '#fff', '#222', 1, 10);
      vtext(cx, s.y1 - 4, c.lo, F, '#222', 'left');
      vtext(cx, s.y0 + 4, c.hi, F, '#222', 'right');
      if (c.unit) vtext(cx, yc, c.unit, F);
    } else if (c.k === 'leg') {
      rect(c.x0, s.y0 + 1, w, h - 2, c.fill, '#222', 1, 10);
      const tl = c.text.length * 3.9 + 8;
      G.push({ type: 'rect', shape: { x: cx - 5.5, y: yc - tl / 2, width: 11, height: tl, r: 2 }, style: { fill: '#fff', stroke: '#555', lineWidth: 0.6 }, z: 11, silent: true });
      vtext(cx, yc, c.text, '7px "Liberation Sans"', '#222');
    }
  });
});

B.forEach(y => hline(y, PL, W, '#111', 2.2, 20));
vline(PL, B[0], B[B.length - 1], '#111', 2);

const xa = chart.convertToPixel({ xAxisIndex: 0 }, hcZone[0]);
const xb = chart.convertToPixel({ xAxisIndex: 0 }, hcZone[1]);
G.push({ type: 'rect', shape: { x: xa, y: 5, width: xb - xa, height: 1818 }, style: { fill: null, stroke: '#F4A51E', lineWidth: 3.2 }, z: 30, silent: true });
const ax0 = xb + 4, ay0 = 285, ax1 = chart.convertToPixel({ xAxisIndex: 0 }, 2435.6), ay1 = 298;
const ang = Math.atan2(ay1 - ay0, ax1 - ax0);
const hx = ax1 - 16 * Math.cos(ang), hy = ay1 - 16 * Math.sin(ang);
G.push({ type: 'line', shape: { x1: ax0, y1: ay0, x2: hx, y2: hy }, style: { stroke: '#1B9E86', lineWidth: 4 }, z: 30, silent: true });
G.push({ type: 'polygon', shape: { points: [[ax1, ay1], [hx + 7 * Math.sin(ang), hy - 7 * Math.cos(ang)], [hx - 7 * Math.sin(ang), hy + 7 * Math.cos(ang)]] }, style: { fill: '#1B9E86' }, z: 30, silent: true });
G.push({ type: 'text', x: chart.convertToPixel({ xAxisIndex: 0 }, 2437.9), y: 311, z: 30, silent: true, style: { text: 'HC bearing zone', font: 'bold 30px "DejaVu Serif"', fill: '#111', align: 'left', verticalAlign: 'middle' } });

chart.setOption({ graphic: { elements: G } });
</script></body></html>
